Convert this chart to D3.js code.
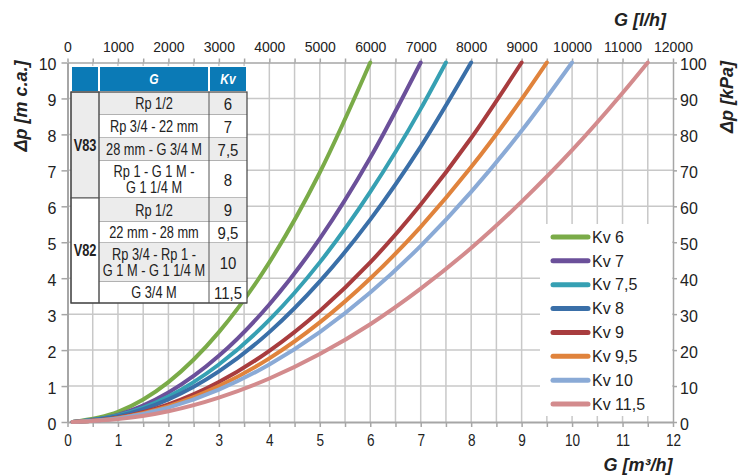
<!DOCTYPE html>
<html>
<head>
<meta charset="utf-8">
<script src="https://cdn.jsdelivr.net/npm/d3@7"></script>
<style>
  body { margin: 0; background: #fff; }
  svg { display: block; }
</style>
</head>
<body>
<svg id="chart" width="748" height="475"></svg>
<script>
// flow rate G [m3/h] and pressure drop dp [m c.a.]
const kvNames = ["Kv 6", "Kv 7", "Kv 7,5", "Kv 8", "Kv 9", "Kv 9,5", "Kv 10", "Kv 11,5"];
const kvColors = ["#7aab48", "#6b509a", "#36a0b3", "#3a6fa8", "#a83c3e", "#e0833c", "#8aaad6", "#d38b8d"];

const kv6 = [[0.1, 0.0], [1, 0.28], [2, 1.11], [3, 2.5], [4, 4.44], [5, 6.94], [6, 10]];
const kv7 = [[0.1, 0.0], [1, 0.2], [2, 0.82], [3, 1.84], [4, 3.27], [5, 5.1], [6, 7.35], [7, 10]];
const kv75 = [[0.1, 0.0], [1, 0.18], [2, 0.71], [3, 1.6], [4, 2.84], [5, 4.44], [6, 6.4], [7, 8.71], [7.5, 10]];
const kv8 = [[0.1, 0.0], [1, 0.16], [2, 0.63], [3, 1.41], [4, 2.5], [5, 3.91], [6, 5.63], [7, 7.66], [8, 10]];
const kv9 = [[0.1, 0.0], [1, 0.12], [2, 0.49], [3, 1.11], [4, 1.98], [5, 3.09], [6, 4.44], [7, 6.05], [8, 7.9], [9, 10]];
const kv95 = [[0.1, 0.0], [1, 0.11], [2, 0.44], [3, 1.0], [4, 1.77], [5, 2.77], [6, 3.99], [7, 5.43], [8, 7.09], [9, 8.98], [9.5, 10]];
const kv10 = [[0.1, 0.0], [1, 0.1], [2, 0.4], [3, 0.9], [4, 1.6], [5, 2.5], [6, 3.6], [7, 4.9], [8, 6.4], [9, 8.1], [10, 10]];
const kv115 = [[0.1, 0.0], [1, 0.08], [2, 0.3], [3, 0.68], [4, 1.21], [5, 1.89], [6, 2.72], [7, 3.71], [8, 4.84], [9, 6.13], [10, 7.56], [11, 9.15], [11.5, 10]];
const series = [kv6, kv7, kv75, kv8, kv9, kv95, kv10, kv115];

// table
const tableGroups = ["V83", "V83", "V83", "V83", "V82", "V82", "V82", "V82"];
const tableG = ["Rp 1/2", "Rp 3/4 - 22 mm", "28 mm - G 3/4 M", "Rp 1 - G 1 M -|G 1 1/4 M",
                "Rp 1/2", "22 mm - 28 mm", "Rp 3/4 - Rp 1 -|G 1 M - G 1 1/4 M", "G 3/4 M"];
const tableKv = ["6", "7", "7,5", "8", "9", "9,5", "10", "11,5"];

const svg = d3.select("#chart");
const sans = "'Liberation Sans', Arial, sans-serif";
const narrowScale = 0.8;  // no narrow font installed: squeeze Liberation Sans

const x = d3.scaleLinear().domain([0, 12]).range([67.5, 673]);
const xTop = d3.scaleLinear().domain([0, 12000]).range([67.5, 673]);
const y = d3.scaleLinear().domain([0, 10]).range([422, 62.5]);
const yR = d3.scaleLinear().domain([0, 100]).range([422, 62.5]);

// grid
const grid = svg.append("g");
grid.selectAll("line.v").data(d3.range(0.5, 12, 0.5)).join("line")
  .attr("x1", d => x(d)).attr("x2", d => x(d))
  .attr("y1", y(0)).attr("y2", y(10))
  .attr("stroke", "#c8c8c8").attr("stroke-width", 1.5);
grid.selectAll("line.h").data(d3.range(1, 10)).join("line")
  .attr("x1", x(0)).attr("x2", x(12))
  .attr("y1", d => y(d)).attr("y2", d => y(d))
  .attr("stroke", "#c8c8c8").attr("stroke-width", 1.5);

// axes
const axStyle = g => {
  g.select(".domain").attr("stroke", "#a6a6a6").attr("stroke-width", 2);
  g.selectAll(".tick line").attr("stroke", "#a6a6a6").attr("stroke-width", 1.5);
  g.selectAll(".tick text").attr("fill", "#222");
};

svg.append("g").attr("transform", `translate(0,${y(0)})`)
  .call(d3.axisBottom(x).tickValues(d3.range(0, 12.5, 0.5)).tickSize(5).tickSizeOuter(0)
    .tickFormat(d => Number.isInteger(d) ? d : ""))
  .call(axStyle)
  .call(g => g.selectAll(".tick text").attr("font-family", sans).attr("font-size", 17)
    .attr("dy", "0.95em").attr("transform", "scale(0.8,1)"));

svg.append("g").attr("transform", `translate(0,${y(10)})`)
  .call(d3.axisTop(xTop).tickValues(d3.range(0, 12500, 500)).tickSize(4).tickSizeOuter(0)
    .tickFormat(d => d % 1000 === 0 ? d : ""))
  .call(axStyle)
  .call(g => g.select(".domain").attr("stroke-width", 1.5))
  .call(g => g.selectAll(".tick text").attr("font-family", sans).attr("font-size", 14).attr("dy", "-0.25em"));

svg.append("g").attr("transform", `translate(${x(0)},0)`)
  .call(d3.axisLeft(y).ticks(10).tickSize(6).tickSizeOuter(0))
  .call(axStyle)
  .call(g => g.selectAll(".tick text").attr("font-family", sans).attr("font-size", 16).attr("dy", "0.45em").attr("x", -11));

svg.append("g").attr("transform", `translate(${x(12)},0)`)
  .call(d3.axisRight(yR).ticks(10).tickSize(4).tickSizeOuter(0))
  .call(axStyle)
  .call(g => g.select(".domain").attr("stroke-width", 1.5))
  .call(g => g.selectAll(".tick text").attr("font-family", sans).attr("font-size", 16).attr("dy", "0.45em").attr("x", 7));

// curves
const line = d3.line().x(d => x(d[0])).y(d => y(d[1])).curve(d3.curveMonotoneX);
svg.append("g").selectAll("path").data(series).join("path")
  .attr("d", line)
  .attr("fill", "none")
  .attr("stroke", (d, i) => kvColors[i])
  .attr("stroke-width", 4)
  .attr("stroke-linecap", "round");

// legend
const leg = svg.append("g");
leg.append("rect").attr("x", 540).attr("y", 224).attr("width", 132).attr("height", 192).attr("fill", "#fff");
const legRow = d3.scaleLinear().domain([0, 7]).range([237, 404]);
const li = leg.selectAll("g").data(kvNames).join("g")
  .attr("transform", (d, i) => `translate(0,${legRow(i)})`);
li.append("line").attr("x1", 553).attr("x2", 588)
  .attr("stroke", (d, i) => kvColors[i]).attr("stroke-width", 5).attr("stroke-linecap", "round");
li.append("text").attr("x", 592).attr("dy", "0.36em")
  .attr("font-family", sans).attr("font-size", 16).attr("fill", "#222").text(d => d);

// titles
const title = (tr, txt) => svg.append("text").attr("transform", tr).attr("text-anchor", "middle")
  .attr("font-family", sans).attr("font-size", 18).attr("font-weight", "bold").attr("font-style", "italic")
  .attr("fill", "#222").text(txt);
title("translate(640,26)", "G [l/h]");
title("translate(638,471)", "G [m³/h]");
title("translate(27,106) rotate(-90)", "Δp [m c.a.]");
title("translate(733,97) rotate(-90)", "Δp [kPa]");

// table
const colX = [71, 99, 209, 247];
const rowY = [92, 115, 138, 161, 198, 222, 243, 282, 303];
const tb = svg.append("g");
const cellText = (cx, cy, t, size, opts = {}) => tb.append("text")
  .attr("transform", `translate(${cx},${cy}) scale(${opts.sx || narrowScale},1)`)
  .attr("dy", "0.36em").attr("text-anchor", "middle")
  .attr("font-family", sans).attr("font-size", size)
  .attr("font-weight", opts.bold ? "bold" : null).attr("font-style", opts.italic ? "italic" : null)
  .attr("fill", opts.fill || "#222").text(t);

tb.append("rect").attr("x", colX[0]).attr("y", 66).attr("width", colX[3] - colX[0]).attr("height", 303 - 66).attr("fill", "#fff");
// header
[[colX[0], colX[1], ""], [colX[1], colX[2], "G"], [colX[2], colX[3], "Kv"]].forEach(([a, b, t]) => {
  tb.append("rect").attr("x", a + 1).attr("y", 67).attr("width", b - a - 2).attr("height", 24).attr("fill", "#0b7ab6");
  cellText((a + b) / 2, 79, t, 15, { bold: true, italic: true, fill: "#fff" });
});
// rows
tableG.forEach((g, i) => {
  const fill = i % 2 === 0 ? "#ececec" : "#fff";
  const y0 = rowY[i], y1 = rowY[i + 1];
  tb.append("rect").attr("x", colX[1]).attr("y", y0).attr("width", colX[3] - colX[1]).attr("height", y1 - y0).attr("fill", fill);
  const lines = g.split("|");
  const cy = (y0 + y1) / 2;
  lines.forEach((t, k) => cellText((colX[1] + colX[2]) / 2, cy + (k - (lines.length - 1) / 2) * 16, t, 16));
  cellText((colX[2] + colX[3]) / 2, cy, tableKv[i], 17, { sx: 0.88 });
  tb.append("line").attr("x1", colX[1]).attr("x2", colX[3]).attr("y1", y1).attr("y2", y1)
    .attr("stroke", "#777").attr("stroke-width", 1);
});
// group cells
const groups = Array.from(new Set(tableGroups));
groups.forEach((gname, j) => {
  const idx = tableGroups.map((g, i) => g === gname ? i : -1).filter(i => i >= 0);
  const y0 = rowY[idx[0]], y1 = rowY[idx[idx.length - 1] + 1];
  tb.append("rect").attr("x", colX[0]).attr("y", y0).attr("width", colX[1] - colX[0]).attr("height", y1 - y0)
    .attr("fill", j === 0 ? "#ececec" : "#fff").attr("stroke", "#555").attr("stroke-width", 1);
  cellText((colX[0] + colX[1]) / 2, (y0 + y1) / 2, gname, 16, { bold: true });
});
// column separators and outer border
[colX[1], colX[2]].forEach(cx => {
  tb.append("line").attr("x1", cx).attr("x2", cx).attr("y1", rowY[0]).attr("y2", 303).attr("stroke", "#555").attr("stroke-width", 1);
});
tb.append("rect").attr("x", colX[0]).attr("y", rowY[0]).attr("width", colX[3] - colX[0]).attr("height", 303 - rowY[0])
  .attr("fill", "none").attr("stroke", "#444").attr("stroke-width", 1.2);
</script>
</body>
</html>
